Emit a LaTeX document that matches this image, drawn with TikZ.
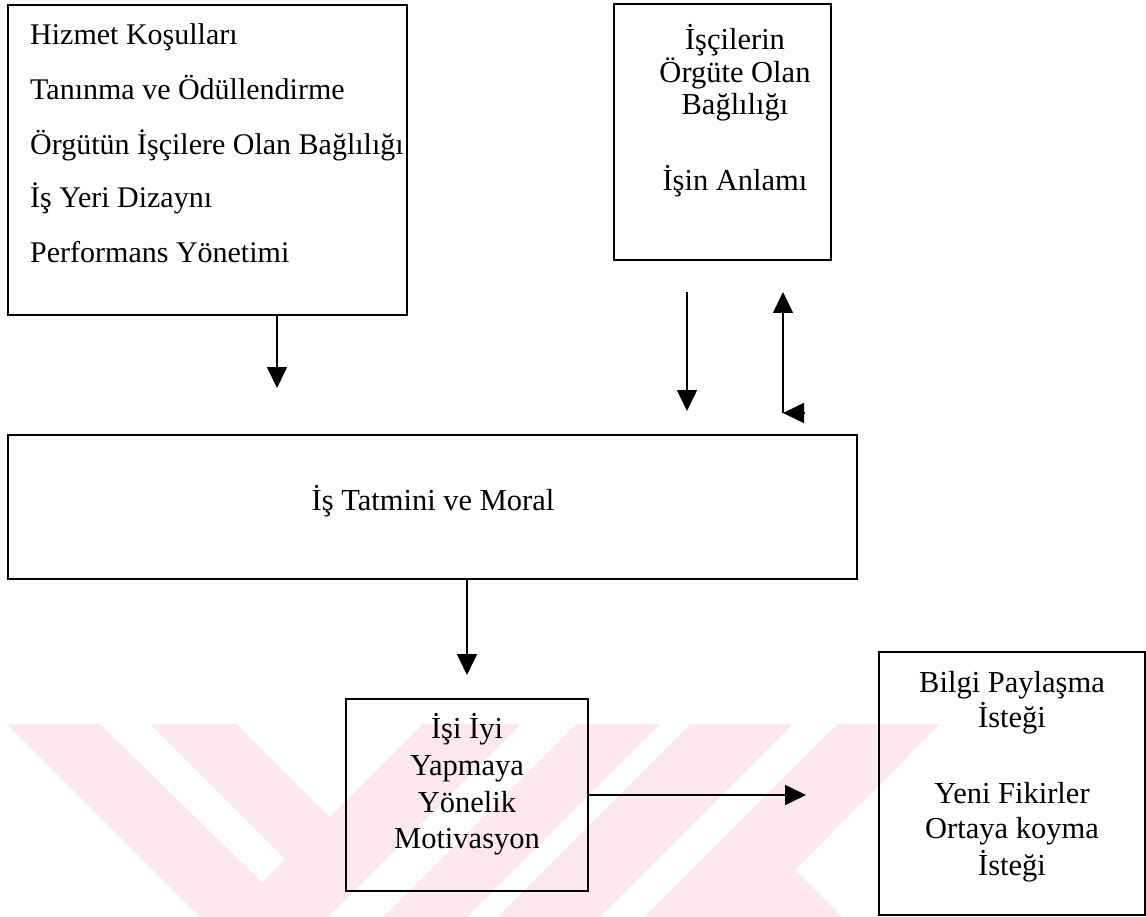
\documentclass[tikz,border=0pt]{standalone}
\usepackage{fontspec}
\setmainfont{Liberation Serif}
\usetikzlibrary{arrows.meta}
\definecolor{wmpink}{RGB}{252,232,237}

\tikzset{
  box/.style={draw,line width=2pt,inner sep=0pt},
  arr/.style={line width=1.6pt,-{Triangle[length=21pt,width=20pt]}},
  txt/.style={inner sep=0pt}
}

\begin{document}
\begin{tikzpicture}[x=1pt,y=-1pt,font=\fontsize{30.5}{35}\selectfont]
\useasboundingbox (0,0) rectangle (1146,917);
% watermark stripes
\fill[wmpink] (7,724) -- (940,724) -- (795,870) -- (842,917) -- (200,917) -- cycle;
\fill[white] (100,724) -- (150,724) -- (285,859) -- (262,882) -- cycle;
\fill[white] (237,724) -- (330,817) -- (423,724) -- cycle;
\fill[white] (521,724) -- (576,724) -- (383,917) -- (328,917) -- cycle;
\fill[white] (660,724) -- (690,724) -- (497,917) -- (467,917) -- cycle;
\fill[white] (793,724) -- (837,724) -- (644,917) -- (600,917) -- cycle;

% boxes
\node[box,minimum width=399pt,minimum height=310pt] (kosul) at (207.5,160) {};
\node[box,minimum width=217pt,minimum height=256pt] (bagli) at (722.5,132) {};
\node[box,minimum width=849pt,minimum height=144pt] (tatmin) at (432.5,507) {};
\node[box,minimum width=242pt,minimum height=192pt] (motiv) at (467,795) {};
\node[box,minimum width=266pt,minimum height=263pt] (bilgi) at (1012,783.5) {};

% texts
\foreach \t/\y [count=\i] in {Hizmet Koşulları/45,Tanınma ve Ödüllendirme/100,
    Örgütün İşçilere Olan Bağlılığı/155,İş Yeri Dizaynı/208,Performans Yönetimi/263}
  \node[txt,anchor=base west,font=\fontsize{30}{35}\selectfont] (k\i) at (30,\y) {\t};
\foreach \t/\y [count=\i] in {İşçilerin/50,Örgüte Olan/83,Bağlılığı/115,İşin Anlamı/191}
  \node[txt,anchor=base] (b\i) at (735,\y) {\t};
\node[txt,anchor=base] (t1) at (433,510) {İş Tatmini ve Moral};
\foreach \t/\y [count=\i] in {İşi İyi/738,Yapmaya/775,Yönelik/812,Motivasyon/848}
  \node[txt,anchor=base] (m\i) at (467,\y) {\t};
\foreach \t/\y [count=\i] in {Bilgi Paylaşma/692,İsteği/727,Yeni Fikirler/803,
    Ortaya koyma/838,İsteği/875}
  \node[txt,anchor=base] (g\i) at (1012,\y) {\t};

% arrows
\coordinate (a1) at (277,388);
\coordinate (a2s) at (687,292);
\coordinate (a2e) at (687,411);
\coordinate (a3s) at (783,413);
\coordinate (a3e) at (783,292);
\coordinate (a3h) at (805,413);
\coordinate (a4) at (467,675);
\coordinate (a5) at (806,795);
\draw[arr] (a1 |- kosul.south) -- (a1);
\draw[arr] (a2s) -- (a2e);
\draw[arr] (a3s) -- (a3e);
\draw[arr] (a3h) -- (a3s);
\draw[arr] (a4 |- tatmin.south) -- (a4);
\draw[arr] (motiv.east) -- (a5);
\end{tikzpicture}
\end{document}
